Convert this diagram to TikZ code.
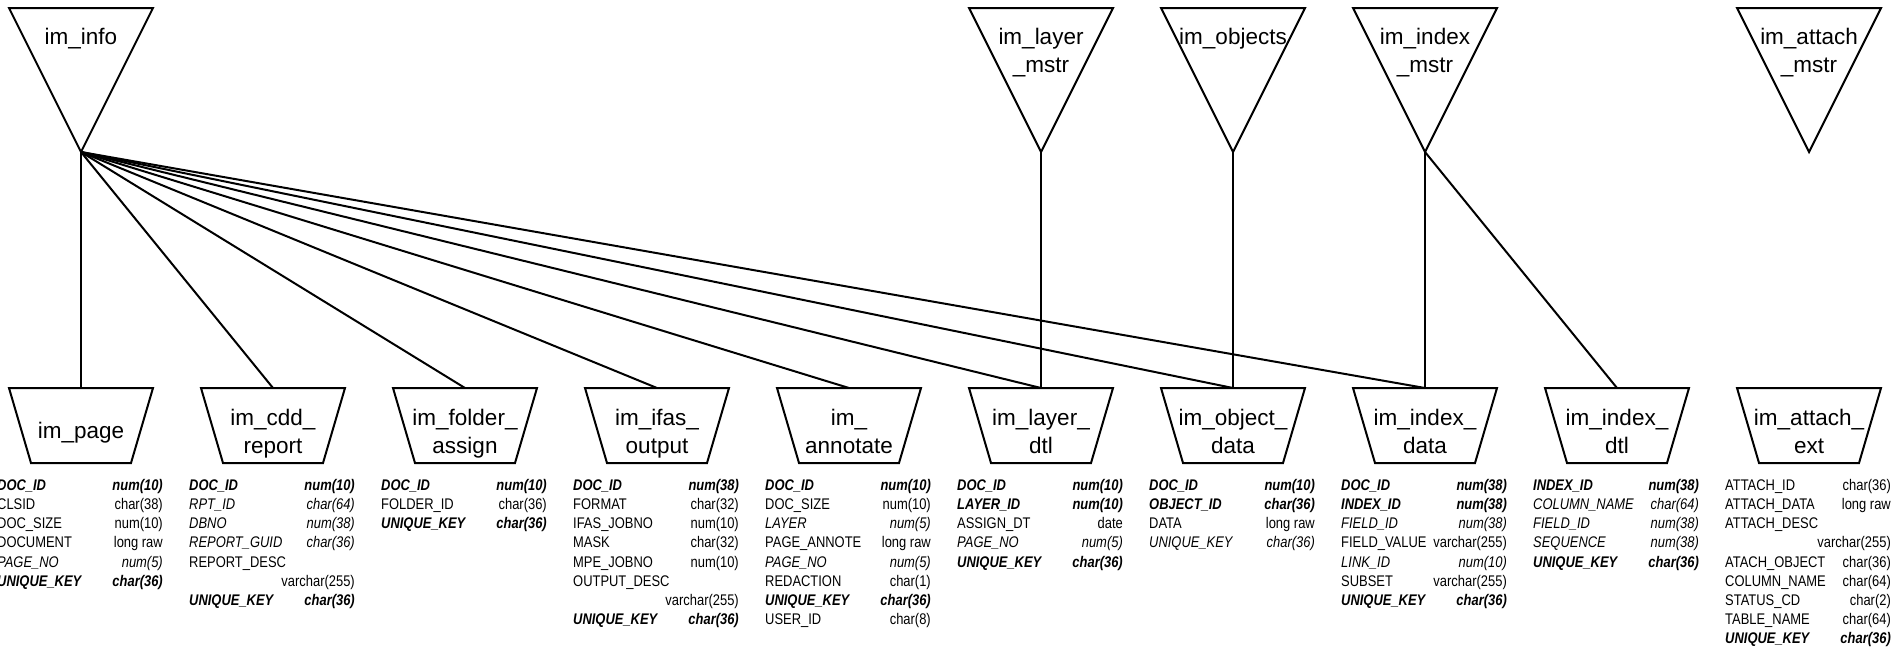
\documentclass[tikz,border=0pt]{standalone}
\usepackage{fontspec}
\setmainfont{Liberation Sans}
\newfontfamily\bodyfont[FakeStretch=0.84]{Liberation Sans}
\tikzset{
  fld/.style={inner sep=0pt, anchor=base west},
  typ/.style={inner sep=0pt, anchor=base east},
  title/.style={inner sep=0pt, anchor=base, align=center, font=\fontsize{22.5}{28}\selectfont},
  conn/.style={line width=2pt},
  box/.style={line width=2pt, line join=miter}
}
\newcommand\frow[5]{%
  \node[fld,font=\bodyfont\fontsize{15.4}{18}\selectfont#3] (f#1-#2) at ({81+192*#1-84},{490.5+19.15*#2}) {#4};
  \node[typ,font=\bodyfont\fontsize{15.4}{18}\selectfont#3] (t#1-#2) at ({81+192*#1+82},{490.5+19.15*#2}) {#5};}
\newcommand\fonly[4]{%
  \node[fld,font=\bodyfont\fontsize{15.4}{18}\selectfont#3] (f#1-#2) at ({81+192*#1-84},{490.5+19.15*#2}) {#4};}
\newcommand\tonly[4]{%
  \node[typ,font=\bodyfont\fontsize{15.4}{18}\selectfont#3] (t#1-#2) at ({81+192*#1+82},{490.5+19.15*#2}) {#4};}
\newcommand\mtri[4]{%
  \draw[box] ({81+192*#1-72},8) -- ({81+192*#1+72},8) -- ({81+192*#1},152) -- cycle;
  \coordinate (#2) at ({81+192*#1},152);
  \node[title] (#2-label) at ({81+192*#1},#4) {#3};}
\newcommand\dtrap[4]{%
  \draw[box] ({81+192*#1-72},388) -- ({81+192*#1+72},388) -- ({81+192*#1+50},463) -- ({81+192*#1-50},463) -- cycle;
  \coordinate (#2) at ({81+192*#1},388);
  \node[title] (#2-label) at ({81+192*#1},#4) {#3};}
\begin{document}
\begin{tikzpicture}[x=1pt,y=-1pt]
\useasboundingbox (0,0) rectangle (1897,648);
% masters
\mtri{0}{info}{im\_info}{44}
\mtri{5}{layermstr}{im\_layer\\\_mstr}{72}
\mtri{6}{objects}{im\_objects}{44}
\mtri{7}{indexmstr}{im\_index\\\_mstr}{72}
\mtri{9}{attachmstr}{im\_attach\\\_mstr}{72}
% details
\dtrap{0}{page}{im\_page}{438}
\dtrap{1}{cdd}{im\_cdd\_\\report}{453}
\dtrap{2}{folder}{im\_folder\_\\assign}{453}
\dtrap{3}{ifas}{im\_ifas\_\\output}{453}
\dtrap{4}{annotate}{im\_\\annotate}{453}
\dtrap{5}{layerdtl}{im\_layer\_\\dtl}{453}
\dtrap{6}{objdata}{im\_object\_\\data}{453}
\dtrap{7}{idxdata}{im\_index\_\\data}{453}
\dtrap{8}{idxdtl}{im\_index\_\\dtl}{453}
\dtrap{9}{attachext}{im\_attach\_\\ext}{453}
% connectors
\foreach \t in {page,cdd,folder,ifas,annotate,layerdtl,objdata,idxdata}
  \draw[conn] (info) -- (\t);
\draw[conn] (layermstr) -- (layerdtl);
\draw[conn] (objects) -- (objdata);
\draw[conn] (indexmstr) -- (idxdata);
\draw[conn] (indexmstr) -- (idxdtl);
% im_page
\frow{0}{0}{\bfseries\itshape}{DOC\_ID}{num(10)}
\frow{0}{1}{}{CLSID}{char(38)}
\frow{0}{2}{}{DOC\_SIZE}{num(10)}
\frow{0}{3}{}{DOCUMENT}{long raw}
\frow{0}{4}{\itshape}{PAGE\_NO}{num(5)}
\frow{0}{5}{\bfseries\itshape}{UNIQUE\_KEY}{char(36)}
% im_cdd_report
\frow{1}{0}{\bfseries\itshape}{DOC\_ID}{num(10)}
\frow{1}{1}{\itshape}{RPT\_ID}{char(64)}
\frow{1}{2}{\itshape}{DBNO}{num(38)}
\frow{1}{3}{\itshape}{REPORT\_GUID}{char(36)}
\fonly{1}{4}{}{REPORT\_DESC}
\tonly{1}{5}{}{varchar(255)}
\frow{1}{6}{\bfseries\itshape}{UNIQUE\_KEY}{char(36)}
% im_folder_assign
\frow{2}{0}{\bfseries\itshape}{DOC\_ID}{num(10)}
\frow{2}{1}{}{FOLDER\_ID}{char(36)}
\frow{2}{2}{\bfseries\itshape}{UNIQUE\_KEY}{char(36)}
% im_ifas_output
\frow{3}{0}{\bfseries\itshape}{DOC\_ID}{num(38)}
\frow{3}{1}{}{FORMAT}{char(32)}
\frow{3}{2}{}{IFAS\_JOBNO}{num(10)}
\frow{3}{3}{}{MASK}{char(32)}
\frow{3}{4}{}{MPE\_JOBNO}{num(10)}
\fonly{3}{5}{}{OUTPUT\_DESC}
\tonly{3}{6}{}{varchar(255)}
\frow{3}{7}{\bfseries\itshape}{UNIQUE\_KEY}{char(36)}
% im_annotate
\frow{4}{0}{\bfseries\itshape}{DOC\_ID}{num(10)}
\frow{4}{1}{}{DOC\_SIZE}{num(10)}
\frow{4}{2}{\itshape}{LAYER}{num(5)}
\frow{4}{3}{}{PAGE\_ANNOTE}{long raw}
\frow{4}{4}{\itshape}{PAGE\_NO}{num(5)}
\frow{4}{5}{}{REDACTION}{char(1)}
\frow{4}{6}{\bfseries\itshape}{UNIQUE\_KEY}{char(36)}
\frow{4}{7}{}{USER\_ID}{char(8)}
% im_layer_dtl
\frow{5}{0}{\bfseries\itshape}{DOC\_ID}{num(10)}
\frow{5}{1}{\bfseries\itshape}{LAYER\_ID}{num(10)}
\frow{5}{2}{}{ASSIGN\_DT}{date}
\frow{5}{3}{\itshape}{PAGE\_NO}{num(5)}
\frow{5}{4}{\bfseries\itshape}{UNIQUE\_KEY}{char(36)}
% im_object_data
\frow{6}{0}{\bfseries\itshape}{DOC\_ID}{num(10)}
\frow{6}{1}{\bfseries\itshape}{OBJECT\_ID}{char(36)}
\frow{6}{2}{}{DATA}{long raw}
\frow{6}{3}{\itshape}{UNIQUE\_KEY}{char(36)}
% im_index_data
\frow{7}{0}{\bfseries\itshape}{DOC\_ID}{num(38)}
\frow{7}{1}{\bfseries\itshape}{INDEX\_ID}{num(38)}
\frow{7}{2}{\itshape}{FIELD\_ID}{num(38)}
\frow{7}{3}{}{FIELD\_VALUE}{varchar(255)}
\frow{7}{4}{\itshape}{LINK\_ID}{num(10)}
\frow{7}{5}{}{SUBSET}{varchar(255)}
\frow{7}{6}{\bfseries\itshape}{UNIQUE\_KEY}{char(36)}
% im_index_dtl
\frow{8}{0}{\bfseries\itshape}{INDEX\_ID}{num(38)}
\frow{8}{1}{\itshape}{COLUMN\_NAME}{char(64)}
\frow{8}{2}{\itshape}{FIELD\_ID}{num(38)}
\frow{8}{3}{\itshape}{SEQUENCE}{num(38)}
\frow{8}{4}{\bfseries\itshape}{UNIQUE\_KEY}{char(36)}
% im_attach_ext
\frow{9}{0}{}{ATTACH\_ID}{char(36)}
\frow{9}{1}{}{ATTACH\_DATA}{long raw}
\fonly{9}{2}{}{ATTACH\_DESC}
\tonly{9}{3}{}{varchar(255)}
\frow{9}{4}{}{ATACH\_OBJECT}{char(36)}
\frow{9}{5}{}{COLUMN\_NAME}{char(64)}
\frow{9}{6}{}{STATUS\_CD}{char(2)}
\frow{9}{7}{}{TABLE\_NAME}{char(64)}
\frow{9}{8}{\bfseries\itshape}{UNIQUE\_KEY}{char(36)}
\end{tikzpicture}
\end{document}
